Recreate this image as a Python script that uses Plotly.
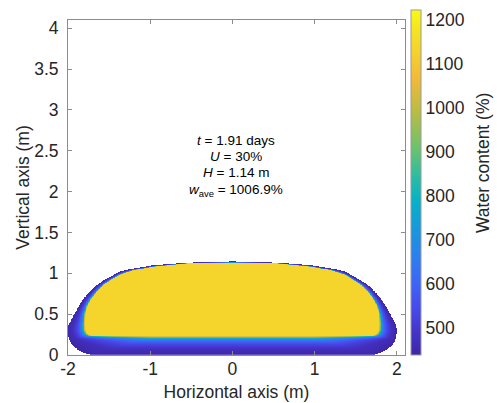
import numpy as np
import plotly.graph_objects as go

# ---- data ----
# outer boundary of the soil body (right half; mirrored for the left half)
outer_x = [0.0, 0.55, 0.96, 1.2, 1.37, 1.48, 1.57, 1.67, 1.75, 1.83, 1.89, 1.96, 2.0, 2.01, 1.99, 1.95, 1.88, 1.8, 1.74, 0.0]
outer_y = [1.145, 1.13, 1.10, 1.06, 1.02, 0.96, 0.91, 0.84, 0.76, 0.66, 0.56, 0.43, 0.35, 0.28, 0.19, 0.12, 0.06, 0.02, 0.0, 0.0]
# boundary of the high-water-content core (right half)
inner_x = [0.0, 0.55, 0.96, 1.2, 1.37, 1.48, 1.57, 1.65, 1.71, 1.76, 1.785, 1.79, 1.785, 1.76, 1.72, 1.65, 0.0]
inner_y = [1.13, 1.12, 1.08, 1.035, 0.98, 0.915, 0.85, 0.77, 0.69, 0.6, 0.5, 0.38, 0.3, 0.255, 0.237, 0.232, 0.232]
# water content across the edge band (0 = outer edge, 1 = core boundary)
band_pos = [0.0, 0.3, 0.53, 0.7, 0.84, 0.9, 0.95, 0.98, 1.0]
band_val = [440, 470, 530, 600, 720, 850, 1000, 1080, 1135]
core_val = 1135

c_min, c_max = 438.6, 1222.7
cbar_ticks = [500, 600, 700, 800, 900, 1000, 1100, 1200]
x_ticks = [-2, -1, 0, 1, 2]
y_ticks = [0, 0.5, 1, 1.5, 2, 2.5, 3, 3.5, 4]
y_ticktext = ["0", "0.5", "1", "1.5", "2", "2.5", "3", "3.5", "4"]
info_lines = ["<i>t</i> = 1.91 days", "<i>U</i> = 30%", "<i>H</i> = 1.14 m",
              "<i>w</i><sub>ave</sub> = 1006.9%"]
info_y = [2.63, 2.43, 2.23, 2.01]

parula = [
    [0.00, "#3e26a8"], [0.07, "#4535cb"], [0.13, "#4748e9"], [0.20, "#3f62f8"],
    [0.27, "#2f7af2"], [0.35, "#1a94e0"], [0.45, "#07b2c6"], [0.52, "#2dbd9f"],
    [0.60, "#6cc26d"], [0.70, "#b5bd45"], [0.80, "#f2b93a"], [0.88, "#f5d22d"],
    [0.95, "#f4e721"], [1.00, "#f9fb15"],
]

FONT = "Liberation Sans, Arial, Helvetica"

# ---- build the field from the boundaries ----
def densify(xs, ys, n=3000):
    xs = np.asarray(xs, float); ys = np.asarray(ys, float)
    seg = np.hypot(np.diff(xs), np.diff(ys))
    s = np.concatenate([[0], np.cumsum(seg)])
    t = np.linspace(0, s[-1], n)
    return np.interp(t, s, xs), np.interp(t, s, ys)

yc = 0.5
def radius_fn(xs, ys):
    dx, dy = densify(xs, ys)
    ang = np.arctan2(dy - yc, dx)
    rad = np.hypot(dx, dy - yc)
    order = np.argsort(ang)
    return ang[order], rad[order]

ao, ro = radius_fn(outer_x, outer_y)
ai, ri = radius_fn(inner_x, inner_y)

gx = np.arange(-2.06, 2.0601, 0.008)
gy = np.arange(0.0, 1.2001, 0.004)
X, Y = np.meshgrid(gx, gy)
TH = np.arctan2(Y - yc, np.abs(X))
R = np.hypot(np.abs(X), Y - yc)
Ro = np.interp(TH, ao, ro)
Ri = np.interp(TH, ai, ri)
S = np.clip((Ro - R) / np.maximum(Ro - Ri, 1e-6), 0, 1)
Z = np.interp(S, band_pos, band_val)
Z[R <= Ri] = core_val
Z[R > Ro] = np.nan

fig = go.Figure()
fig.add_trace(go.Heatmap(
    x=gx, y=gy, z=Z, colorscale=parula, zmin=c_min, zmax=c_max,
    zsmooth=False, hoverinfo="skip",
    colorbar=dict(
        x=1.0178, xanchor="left", xpad=0, y=0.515, yanchor="middle", ypad=0,
        len=345, lenmode="pixels", thickness=10, thicknessmode="pixels",
        tickvals=cbar_ticks, ticks="", outlinecolor="#9a9a9a", outlinewidth=1,
        tickfont=dict(family=FONT, size=17.5, color="#262626"),
    ),
))

axis_common = dict(
    showline=True, linecolor="#8c8c8c", linewidth=1, mirror="ticks",
    ticks="inside", ticklen=4, tickcolor="#8c8c8c", showgrid=False, zeroline=False,
    automargin=False,
    tickfont=dict(family=FONT, size=17.5, color="#262626"),
)
fig.update_xaxes(range=[-2, 2.1], tickvals=x_ticks, ticktext=[str(v) for v in x_ticks],
                 ticklabelstandoff=-2,
                 title=dict(text="Horizontal axis (m)", standoff=7,
                            font=dict(family=FONT, size=17.5, color="#262626")),
                 **axis_common)
fig.update_yaxes(range=[0, 4.1], tickvals=y_ticks, ticktext=y_ticktext,
                 ticklabelstandoff=5,
                 title=dict(text="Vertical axis (m)", standoff=0,
                            font=dict(family=FONT, size=17.5, color="#262626")),
                 **axis_common)

for txt, yy in zip(info_lines, info_y):
    fig.add_annotation(x=0.038, y=yy, xref="x", yref="y", text=txt,
                       showarrow=False, xanchor="center", yanchor="middle",
                       font=dict(family=FONT, size=13.5, color="#000000"))
fig.add_annotation(x=1.2315, y=0.573, xref="paper", yref="paper", text="Water content (%)",
                   textangle=-90, showarrow=False, xanchor="center", yanchor="middle",
                   font=dict(family=FONT, size=17.5, color="#262626"))

fig.update_layout(
    width=497, height=403, margin=dict(l=68, r=92, t=20, b=48, autoexpand=False),
    paper_bgcolor="white", plot_bgcolor="white", showlegend=False,
)
fig.write_html("out.html")
